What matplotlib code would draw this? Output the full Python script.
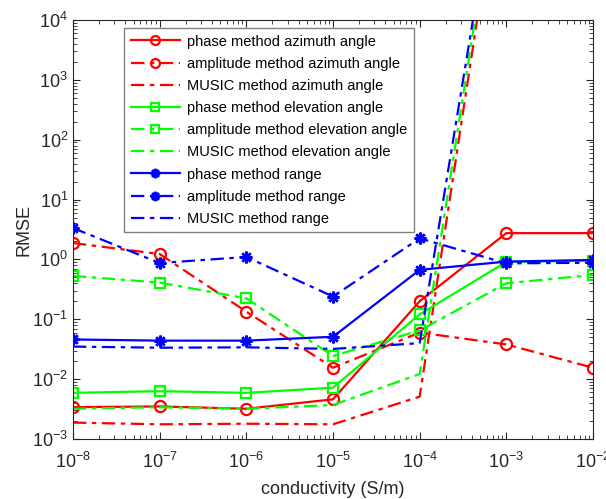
import matplotlib
matplotlib.use("Agg")
import matplotlib.pyplot as plt
from matplotlib.ticker import LogLocator, NullFormatter

plt.rcParams['font.family'] = ['Liberation Sans', 'DejaVu Sans']
plt.rcParams['mathtext.fontset'] = 'custom'
plt.rcParams['mathtext.rm'] = 'Liberation Sans'
plt.rcParams['mathtext.it'] = 'Liberation Sans'

conductivity = [1e-8, 1e-7, 1e-6, 1e-5, 1e-4, 1e-3, 1e-2]

phase_az = [0.0034, 0.0035, 0.0032, 0.0046, 0.20, 2.75, 2.75]
amp_az = [1.88, 1.23, 0.134, 0.0155, 0.060, 0.038, 0.0155]
music_az = [0.00188, 0.00176, 0.0018, 0.00176, 0.0051, 1.6e7, 2.0e7]

phase_el = [0.0059, 0.0063, 0.0059, 0.0072, 0.121, 0.91, 0.95]
amp_el = [0.53, 0.41, 0.224, 0.0244, 0.065, 0.40, 0.55]
music_el = [0.0032, 0.0034, 0.0032, 0.0037, 0.0122, 2.3e7, 2.5e7]

phase_rg = [0.046, 0.044, 0.044, 0.051, 0.67, 0.92, 0.98]
amp_rg = [3.35, 0.87, 1.1, 0.24, 2.25, 0.86, 0.88]
music_rg = [0.035, 0.0335, 0.034, 0.032, 0.040, 2.4e7, 2.6e7]

labels = ['phase method azimuth angle', 'amplitude method azimuth angle',
          'MUSIC method azimuth angle', 'phase method elevation angle',
          'amplitude method elevation angle', 'MUSIC method elevation angle',
          'phase method range', 'amplitude method range', 'MUSIC method range']

red, green, blue = '#ff0000', '#00ff00', '#0000ff'
dd = (0, (6, 2.5, 2, 2.5))
star = (8, 2, 0)

fig = plt.figure(figsize=(6.06, 4.99), dpi=100)
ax = fig.add_axes([73/606, 1-439/499, 520/606, 419/499])

lw = 1.6
ax.plot(conductivity, phase_az, color=red, ls='-', lw=lw, marker='o', ms=8, mfc='none', mew=1.6, label=labels[0])
ax.plot(conductivity, amp_az, color=red, ls=dd, lw=lw, marker='o', ms=8, mfc='none', mew=1.6, label=labels[1])
ax.plot(conductivity, music_az, color=red, ls=dd, lw=lw, label=labels[2])
ax.plot(conductivity, phase_el, color=green, ls='-', lw=lw, marker='s', ms=6.5, mfc='none', mew=1.6, label=labels[3])
ax.plot(conductivity, amp_el, color=green, ls=dd, lw=lw, marker='s', ms=6.5, mfc='none', mew=1.6, label=labels[4])
ax.plot(conductivity, music_el, color=green, ls=dd, lw=lw, label=labels[5])
ax.plot(conductivity, phase_rg, color=blue, ls='-', lw=lw, marker=star, ms=8.5, mew=1.8, label=labels[6])
ax.plot(conductivity, amp_rg, color=blue, ls=dd, lw=lw, marker=star, ms=8.5, mew=1.8, label=labels[7])
ax.plot(conductivity, music_rg, color=blue, ls=dd, lw=lw, label=labels[8])

ax.set_xscale('log')
ax.set_yscale('log')
ax.set_xlim(1e-8, 1e-2)
ax.set_ylim(1e-3, 1e4)
ax.xaxis.set_major_locator(LogLocator(base=10, numticks=20))
ax.yaxis.set_major_locator(LogLocator(base=10, numticks=20))
ax.xaxis.set_minor_locator(LogLocator(base=10, subs=range(2, 10), numticks=100))
ax.yaxis.set_minor_locator(LogLocator(base=10, subs=range(2, 10), numticks=100))
ax.xaxis.set_minor_formatter(NullFormatter())
ax.yaxis.set_minor_formatter(NullFormatter())
ax.tick_params(which='both', direction='in', top=True, right=True, labelsize=13, colors='#262626')
ax.tick_params(which='major', length=5, width=0.8)
ax.tick_params(which='minor', length=3, width=0.6)
ax.tick_params(axis='x', pad=9)
for s in ax.spines.values():
    s.set_linewidth(0.8)
    s.set_color('#262626')

ax.set_xlabel('conductivity (S/m)', fontsize=13, color='#262626', labelpad=7)
ax.set_ylabel('RMSE', fontsize=13, color='#262626', labelpad=0)

leg = ax.legend(loc='upper left', bbox_to_anchor=(0.098, 0.981), borderaxespad=0,
                fontsize=10.5, handlelength=3.4, fancybox=False, framealpha=1,
                edgecolor='#808080', labelspacing=0.56, borderpad=0.45, handletextpad=0.5,
                markerscale=0.8)
leg.get_frame().set_linewidth(1.0)

fig.savefig('out.png', dpi=100)
